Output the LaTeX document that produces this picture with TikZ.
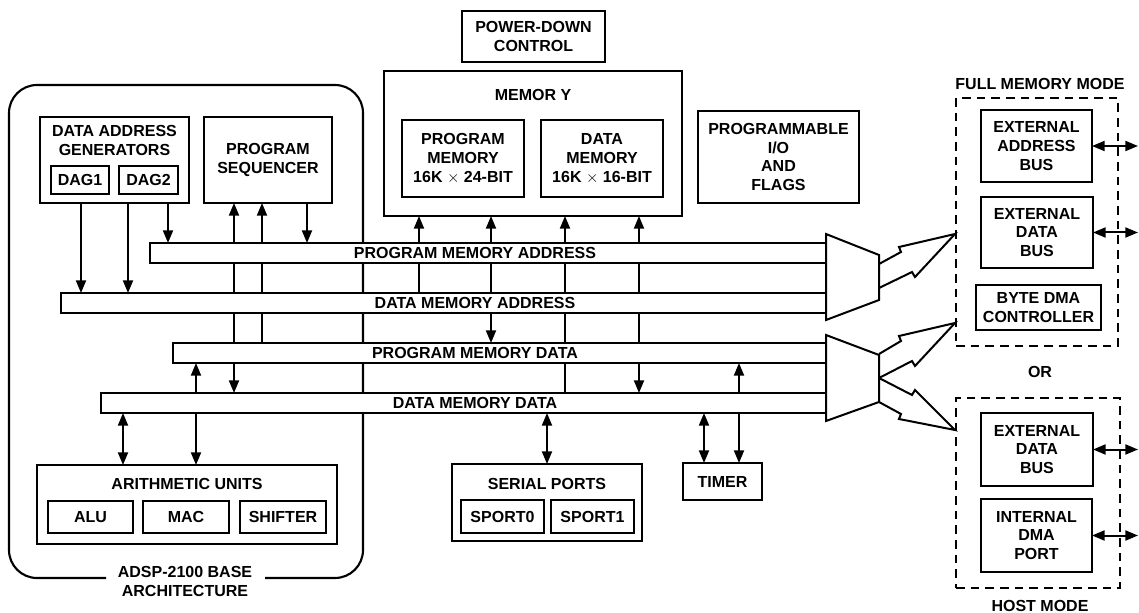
\documentclass[tikz,border=0pt]{standalone}
\usepackage{fontspec}
\setmainfont{Liberation Sans}
\usetikzlibrary{arrows.meta}
\pgfdeclarelayer{bg}
\pgfsetlayers{bg,main}
\newcommand\txt{\bfseries\fontsize{12}{14}\selectfont}
\newcommand\mkbox[7][]{\node[box,#1,minimum width={(#5-#3)*0.75pt},minimum height={(#6-#4)*0.75pt}] (#2) at ({(#3+#5)/2},{(#4+#6)/2}) {#7};}
\tikzset{
  box/.style={draw, line width=1.5pt, fill=white, inner sep=0pt, outer sep=0pt, align=center, font=\txt},
  bus/.style={line width=1.25pt},
  dbox/.style={fill=none, dash pattern=on 6.5pt off 4.5pt},
  lbl/.style={inner sep=0pt, align=center, font=\txt},
  conn/.style={line width=1.5pt},
  base/.style={line width=1.6pt, rounded corners=21pt},
  mux/.style={line width=1.5pt, fill=white, line join=miter},
  hol/.style={line width=1.5pt},
  >={Triangle[length=9.5pt,width=7.5pt]}
}
\begin{document}
\begin{tikzpicture}[x=0.75pt,y=-0.75pt]
\useasboundingbox (0,0) rectangle (1139,613);

% base architecture outline
\begin{pgfonlayer}{bg}
\draw[base] (106,578) -- (9,578) -- (9,85) -- (363,85) -- (363,578) -- (265,578);
\end{pgfonlayer}
\node[lbl] (basel) at (185,581.5) {ADSP-2100 BASE\\ARCHITECTURE};

% upper blocks
\mkbox{dag}{40}{117}{189}{203}{}
\node[lbl] (dagl) at (114.5,140.5) {DATA ADDRESS\\GENERATORS};
\mkbox{dag1}{51}{166}{109}{194}{DAG1}
\mkbox{dag2}{119}{166}{178}{194}{DAG2}
\mkbox{ps}{204}{117}{332}{203}{PROGRAM\\SEQUENCER}
\mkbox{pwr}{462}{11}{605}{62}{POWER-DOWN\\CONTROL}
\mkbox{mem}{384}{71}{682}{216}{}
\node[lbl] (meml) at (533,95) {MEMOR Y};
\mkbox{pm}{402}{120}{524}{197}{PROGRAM\\MEMORY\\16K {\mdseries$\times$} 24-BIT}
\mkbox{dm}{541}{120}{663}{197}{DATA\\MEMORY\\16K {\mdseries$\times$} 16-BIT}
\mkbox{pio}{698}{111}{859}{203}{PROGRAMMABLE\\I/O\\AND\\FLAGS}

% buses
\mkbox[bus]{pma}{150}{243}{826}{263}{}
\node[lbl] (pmal) at (475,253) {PROGRAM MEMORY ADDRESS};
\mkbox[bus]{dma}{61}{293}{826}{313}{}
\node[lbl] (dmal) at (475,303) {DATA MEMORY ADDRESS};
\mkbox[bus]{pmd}{173}{343}{826}{363}{}
\node[lbl] (pmdl) at (475,353) {PROGRAM MEMORY DATA};
\mkbox[bus]{dmd}{101}{393}{826}{413}{}
\node[lbl] (dmdl) at (475,403) {DATA MEMORY DATA};

% lower blocks
\mkbox{au}{37}{465}{337}{544}{}
\node[lbl] (aul) at (187,484) {ARITHMETIC UNITS};
\mkbox{alu}{48}{501}{133}{533}{ALU}
\mkbox{mac}{143}{501}{229}{533}{MAC}
\mkbox{shf}{240}{501}{326}{533}{SHIFTER}
\mkbox{sp}{452}{464}{642}{541}{}
\node[lbl] (spl) at (547,484) {SERIAL PORTS};
\mkbox{sp0}{461}{500}{544}{533}{SPORT0}
\mkbox{sp1}{551}{500}{634}{533}{SPORT1}
\mkbox{tmr}{683}{463}{762}{500}{TIMER}

% multiplexers and hollow arrows
\draw[mux] (826,234) -- (879,255) -- (879,300) -- (826,320) -- cycle;
\draw[mux] (826,335) -- (879,355) -- (879,402) -- (826,421) -- cycle;
\draw[hol] (879,264) -- (901,252) -- (899,247) -- (955,234) -- (915,277) -- (912,272) -- (879,288);
\draw[hol] (879,354) -- (901,341) -- (899,336) -- (955,323) -- (915,366) -- (912,361) -- (879,378);
\draw[hol] (879,378) -- (912,395) -- (915,390) -- (955,430) -- (899,419) -- (901,414) -- (879,402);

% right side modes
\mkbox[dbox]{fmm}{956}{98}{1118}{346}{}
\node[lbl] (fmml) at (1040,84) {FULL MEMORY MODE};
\mkbox{eab}{981}{110}{1092}{182}{EXTERNAL\\ADDRESS\\BUS}
\mkbox{edb}{981}{197}{1093}{268}{EXTERNAL\\DATA\\BUS}
\mkbox{bdma}{976}{285}{1101}{330}{BYTE DMA\\CONTROLLER}
\node[lbl] (orl) at (1040,372) {OR};
\mkbox[dbox]{hm}{956}{398}{1120}{588}{}
\node[lbl] (hml) at (1040,606) {HOST MODE};
\mkbox{hedb}{981}{413}{1093}{486}{EXTERNAL\\DATA\\BUS}
\mkbox{idma}{981}{499}{1092}{572}{INTERNAL\\DMA\\PORT}

\draw[conn,<->] (eab.east) -- (eab.east -| 1138,0);
\draw[conn,<->] (edb.east) -- (edb.east -| 1138,0);
\draw[conn,<->] (hedb.east) -- (hedb.east -| 1138,0);
\draw[conn,<->] (idma.east) -- (idma.east -| 1138,0);

% connectors
\begin{pgfonlayer}{bg}
\draw[conn,->] (81,0 |- dag1.south) -- (81,0 |- dma.north);
\draw[conn,->] (128,0 |- dag2.south) -- (128,0 |- dma.north);
\draw[conn,->] (168,0 |- dag.south) -- (168,0 |- pma.north);
\draw[conn,<->] (234,0 |- ps.south) -- (234,0 |- dmd.north);
\draw[conn,->] (262,0 |- pmd.north) -- (262,0 |- ps.south);
\draw[conn,->] (307,0 |- ps.south) -- (307,0 |- pma.north);
\draw[conn,<->] (196,0 |- pmd.south) -- (196,0 |- au.north);
\draw[conn,<->] (123,0 |- dmd.south) -- (123,0 |- au.north);
\draw[conn,->] (419,0 |- dma.north) -- (419,0 |- mem.south);
\draw[conn,<->] (491,0 |- mem.south) -- (491,0 |- pmd.north);
\draw[conn,->] (565,0 |- dmd.north) -- (565,0 |- mem.south);
\draw[conn,<->] (639,0 |- mem.south) -- (639,0 |- dmd.north);
\draw[conn,<->] (739,0 |- pmd.south) -- (739,0 |- tmr.north);
\draw[conn,<->] (704,0 |- dmd.south) -- (704,0 |- tmr.north);
\draw[conn,<->] (547,0 |- dmd.south) -- (547,0 |- sp.north);
\end{pgfonlayer}
\end{tikzpicture}
\end{document}
